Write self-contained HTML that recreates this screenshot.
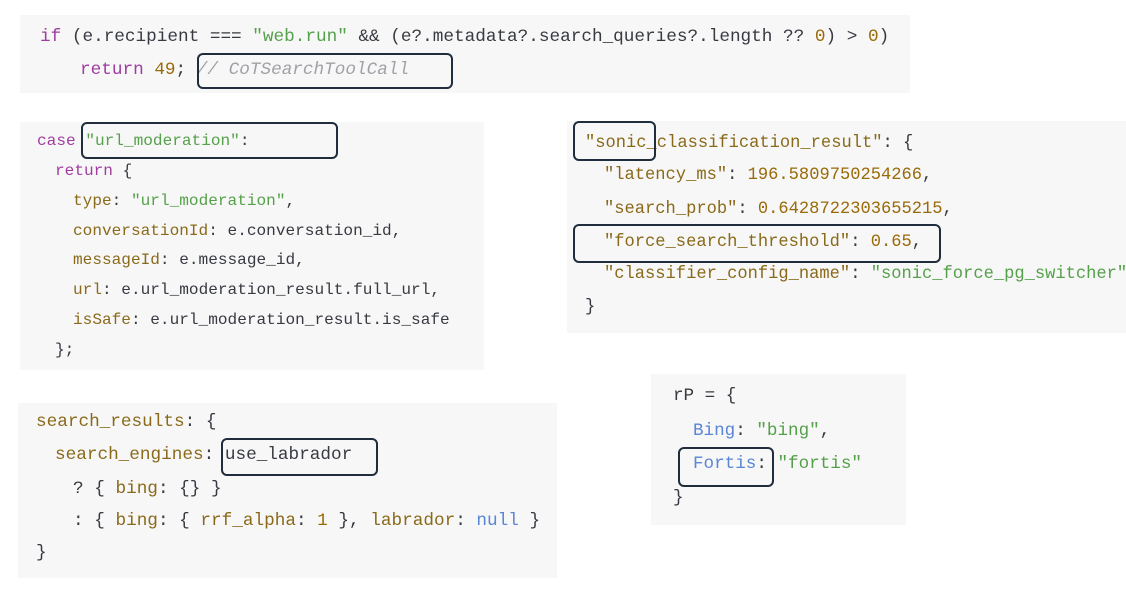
<!DOCTYPE html>
<html><head><meta charset="utf-8"><style>
html,body{margin:0;padding:0;background:#fff;width:1126px;height:601px;overflow:hidden;position:relative}
.p{position:absolute;background:#f7f7f7;overflow:hidden}
.l{position:absolute;white-space:pre;font-family:"Liberation Mono",monospace;line-height:30px;height:30px;color:#383a42}
.k{color:#a03ca0}.s{color:#55a04a}.n{color:#9a6a08}.c{color:#a0a1a7;font-style:italic}.pr{color:#8a6a1a}.b{color:#5a86d6}
.bx{position:absolute;border:2.5px solid #1f2d3d;border-radius:6px;box-sizing:border-box}
</style></head><body>
<div class="p" style="left:20px;top:15px;width:890px;height:78px"></div>
<div class="p" style="left:20px;top:122px;width:464px;height:248px"></div>
<div class="p" style="left:567px;top:121px;width:559px;height:212px"></div>
<div class="p" style="left:18px;top:403px;width:539px;height:175px"></div>
<div class="p" style="left:651px;top:374px;width:255px;height:151px"></div>

<div style="font-size:17.7px">
<div class="l" style="left:40px;top:22px"><span class="k">if</span> (e.recipient === <span class="s">"web.run"</span> &amp;&amp; (e?.metadata?.search_queries?.length ?? <span class="n">0</span>) &gt; <span class="n">0</span>)</div>
<div class="l" style="left:80px;top:55px"><span class="k">return</span> <span class="n">49</span>; <span class="c">// CoTSearchToolCall</span></div>
</div>

<div style="font-size:16.1px">
<div class="l" style="left:37px;top:126px"><span class="k">case</span> <span class="s">"url_moderation"</span>:</div>
<div class="l" style="left:55px;top:156px"><span class="k">return</span> {</div>
<div class="l" style="left:73px;top:186px"><span class="pr">type</span>: <span class="s">"url_moderation"</span>,</div>
<div class="l" style="left:73px;top:216px"><span class="pr">conversationId</span>: e.conversation_id,</div>
<div class="l" style="left:73px;top:245px"><span class="pr">messageId</span>: e.message_id,</div>
<div class="l" style="left:73px;top:275px"><span class="pr">url</span>: e.url_moderation_result.full_url,</div>
<div class="l" style="left:73px;top:305px"><span class="pr">isSafe</span>: e.url_moderation_result.is_safe</div>
<div class="l" style="left:55px;top:335px">};</div>
</div>

<div style="font-size:17.1px">
<div class="l" style="left:585px;top:129px"><span class="pr">"sonic_classification_result"</span>: {</div>
<div class="l" style="left:604px;top:161px"><span class="pr">"latency_ms"</span>: <span class="n">196.5809750254266</span>,</div>
<div class="l" style="left:604px;top:195px"><span class="pr">"search_prob"</span>: <span class="n">0.6428722303655215</span>,</div>
<div class="l" style="left:604px;top:228px"><span class="pr">"force_search_threshold"</span>: <span class="n">0.65</span>,</div>
<div class="l" style="left:604px;top:260px"><span class="pr">"classifier_config_name"</span>: <span class="s">"sonic_force_pg_switcher"</span></div>
<div class="l" style="left:585px;top:293px">}</div>
</div>

<div style="font-size:17.7px">
<div class="l" style="left:36px;top:407px"><span class="pr">search_results</span>: {</div>
<div class="l" style="left:55px;top:440px"><span class="pr">search_engines</span>: use_labrador</div>
<div class="l" style="left:73px;top:474px">? { <span class="pr">bing</span>: {} }</div>
<div class="l" style="left:73px;top:506px">: { <span class="pr">bing</span>: { <span class="pr">rrf_alpha</span>: <span class="n">1</span> }, <span class="pr">labrador</span>: <span class="b">null</span> }</div>
<div class="l" style="left:36px;top:538px">}</div>
</div>

<div style="font-size:17.6px">
<div class="l" style="left:673px;top:381px">rP = {</div>
<div class="l" style="left:693px;top:416px"><span class="b">Bing</span>: <span class="s">"bing"</span>,</div>
<div class="l" style="left:693px;top:449px"><span class="b">Fortis</span>: <span class="s">"fortis"</span></div>
<div class="l" style="left:673px;top:483px">}</div>
</div>

<div class="bx" style="left:197px;top:53px;width:256px;height:36px"></div>
<div class="bx" style="left:81px;top:122px;width:257px;height:37px"></div>
<div class="bx" style="left:573px;top:121px;width:83px;height:40px"></div>
<div class="bx" style="left:573px;top:224px;width:368px;height:39px"></div>
<div class="bx" style="left:221px;top:438px;width:157px;height:38px"></div>
<div class="bx" style="left:678px;top:447px;width:96px;height:40px"></div>
</body></html>
